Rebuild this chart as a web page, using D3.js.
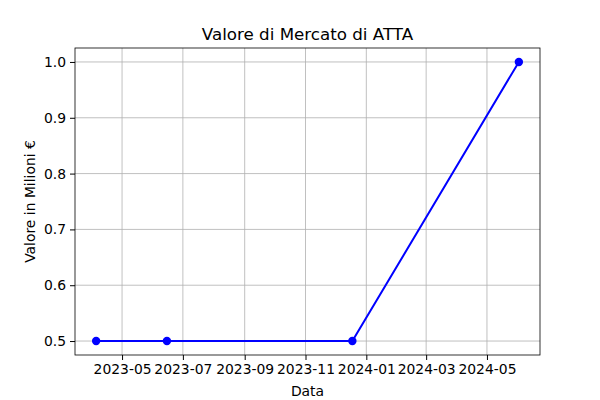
<!DOCTYPE html>
<html>
<head>
<meta charset="utf-8">
<script src="https://cdn.jsdelivr.net/npm/d3@7"></script>
<style>
  body { margin: 0; background: #fff; }
  text { font-family: "DejaVu Sans", sans-serif; }
</style>
</head>
<body>
<svg width="600" height="400"></svg>
<script>
// market value points
const dates = ["2023-04-05", "2023-06-15", "2023-12-18", "2024-06-02"];
const values = [0.5, 0.5, 0.5, 1.0];
const xTicks = ["2023-05", "2023-07", "2023-09", "2023-11", "2024-01", "2024-03", "2024-05"];
const yTicks = [0.5, 0.6, 0.7, 0.8, 0.9, 1.0];

const parse = d3.utcParse("%Y-%m-%d");
const data = dates.map((d, i) => ({ date: parse(d), value: values[i] }));

let svg = d3.select("svg");
const m = { left: 75, right: 540, top: 48, bottom: 355 };

// 5% padding like matplotlib
const ext = d3.extent(data, d => d.date);
const pad = (ext[1] - ext[0]) * 0.05;
const x = d3.scaleUtc()
    .domain([new Date(+ext[0] - pad), new Date(+ext[1] + pad)])
    .range([m.left, m.right]);
const y = d3.scaleLinear().domain([0.475, 1.025]).range([m.bottom, m.top]);

const tickDates = xTicks.map(t => d3.utcParse("%Y-%m")(t));

// grid
svg.append("g").selectAll("line").data(tickDates).enter().append("line")
    .attr("x1", d => x(d)).attr("x2", d => x(d))
    .attr("y1", m.top).attr("y2", m.bottom)
    .attr("stroke", "#b0b0b0").attr("stroke-width", 0.8);
svg.append("g").selectAll("line").data(yTicks).enter().append("line")
    .attr("x1", m.left).attr("x2", m.right)
    .attr("y1", d => y(d)).attr("y2", d => y(d))
    .attr("stroke", "#b0b0b0").attr("stroke-width", 0.8);

// axes
const xAxis = svg.append("g")
    .attr("transform", `translate(0,${m.bottom})`)
    .call(d3.axisBottom(x).tickValues(tickDates).tickFormat(d3.utcFormat("%Y-%m")).tickSize(5).tickPadding(4).tickSizeOuter(0));
const yAxis = svg.append("g")
    .attr("transform", `translate(${m.left},0)`)
    .call(d3.axisLeft(y).tickValues(yTicks).tickFormat(d3.format(".1f")).tickSize(5).tickPadding(4).tickSizeOuter(0));
[xAxis, yAxis].forEach(a => {
    a.selectAll("text").attr("font-size", 13.9).attr("fill", "#000").style("font-family", "DejaVu Sans");
    a.select(".domain").remove();
    a.selectAll(".tick line").attr("stroke", "#000");
});

// frame
svg.append("rect")
    .attr("x", m.left).attr("y", m.top)
    .attr("width", m.right - m.left).attr("height", m.bottom - m.top)
    .attr("fill", "none").attr("stroke", "#000").attr("stroke-width", 0.8);

// line and markers
svg.append("path").datum(data)
    .attr("fill", "none").attr("stroke", "#0000ff").attr("stroke-width", 2)
    .attr("d", d3.line().x(d => x(d.date)).y(d => y(d.value)));
svg.append("g").selectAll("circle").data(data).enter().append("circle")
    .attr("cx", d => x(d.date)).attr("cy", d => y(d.value)).attr("r", 4.2)
    .attr("fill", "#0000ff");

// labels
svg.append("text").attr("x", (m.left + m.right) / 2).attr("y", 40)
    .attr("text-anchor", "middle").attr("font-size", 16.7).text("Valore di Mercato di ATTA");
svg.append("text").attr("x", (m.left + m.right) / 2).attr("y", 396)
    .attr("text-anchor", "middle").attr("font-size", 13.9).text("Data");
svg.append("text")
    .attr("transform", `translate(35,${(m.top + m.bottom) / 2}) rotate(-90)`)
    .attr("text-anchor", "middle").attr("font-size", 13.9).text("Valore in Milioni €");
</script>
</body>
</html>
